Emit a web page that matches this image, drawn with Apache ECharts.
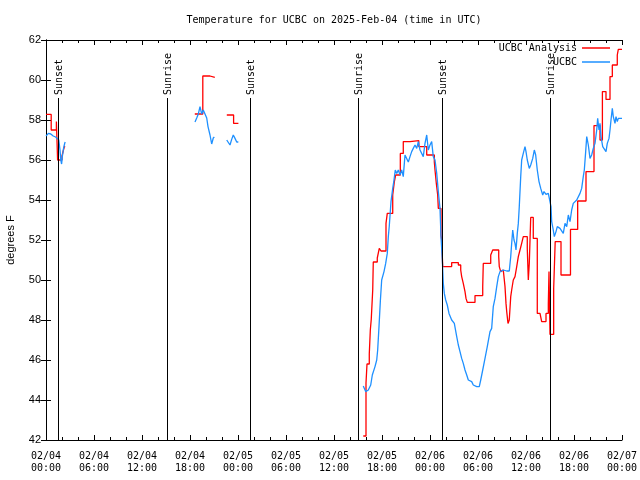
<!DOCTYPE html>
<html>
<head>
<meta charset="utf-8">
<script src="https://cdn.jsdelivr.net/npm/echarts@6/dist/echarts.min.js"></script>
<style>html,body{margin:0;padding:0;background:#fff}#c{width:640px;height:480px}</style>
</head>
<body>
<div id="c"></div>
<script>
// Hours since 2025-02-04 00:00 UTC ; null temp = gap in record
const analysisTimes = [
  0, 0.65, 1.3, 1.45, 2.0, 2.15, 2.3, 2.4,
  2.4,
  18.6, 19.6, 20.5, 21.1,
  21.1,
  22.6, 23.45, 24.05,
  24.05,
  39.66, 40.0, 40.125, 40.41, 40.54, 40.66, 40.84, 40.91, 41.41, 41.66, 41.875, 42.5, 42.66, 43.34, 43.54, 43.71,
  44.29, 44.66, 45.5, 46.6, 47.59, 48.54, 48.625, 48.79, 48.96, 49.04, 49.375, 49.46, 49.59, 50.71, 51.54, 51.84,
  51.96, 52.16, 52.375, 52.5, 52.66, 53.625, 54.59, 54.66, 55.59, 55.84, 56.59, 56.66, 56.84, 57.0, 57.16, 57.375,
  57.5, 57.59, 57.75, 57.91, 58.09, 58.21, 58.41, 58.625, 58.84, 59.04, 59.25, 59.46, 59.66, 60.16, 60.29, 60.41,
  60.59, 60.91, 61.41, 61.75, 61.96, 62.5, 62.79, 62.875, 62.94, 63.0, 63.46, 63.65, 64.375, 65.56, 66.46, 67.5,
  68.5, 69.25, 69.55, 70.0, 70.5, 70.79, 71.41, 71.54, 72
];
const analysisTemps = [
  58.28, 57.5, 57.92, 56.0, 56.2, 56.45, 56.67, 56.67,
  null,
  58.3, 60.2, 60.13, 60.13,
  null,
  58.25, 57.83, 57.83,
  null,
  42.2, 44.85, 45.8, 46.3, 47.5, 48.05, 49.5, 50.9, 51.1, 51.58, 51.45, 52.83, 53.33, 54.25, 54.9, 55.25,
  56.33, 56.92, 56.97, 56.67, 56.25, 55.9, 55.5, 54.83, 54.25, 53.58, 52.25, 52.0, 50.67, 50.87, 50.75, 50.5,
  50.17, 49.83, 49.42, 49.08, 48.88, 49.22, 49.67, 50.83, 51.25, 51.5, 51.17, 50.67, 50.42, 50.5, 50.42, 49.67,
  48.83, 48.42, 47.83, 48.0, 49.17, 49.5, 50.0, 50.17, 50.67, 51.17, 51.5, 51.83, 52.17, 51.58, 50.0, 50.83,
  53.13, 52.08, 48.33, 48.25, 47.92, 48.33, 48.8, 50.42, 48.8, 47.28, 49.58, 51.92, 50.25, 52.53, 53.95, 55.42,
  57.72, 57.0, 59.42, 59.03, 60.17, 60.75, 61.25, 61.53, 61.53
];

const obsTimes = [
  0, 0.3, 0.6, 0.9, 1.2, 1.4, 1.6, 1.75, 1.85, 1.95, 2.05, 2.2, 2.35, 2.4,
  2.4,
  18.625, 18.84, 19.04, 19.25, 19.46, 19.66, 19.875, 20.09, 20.25, 20.5, 20.71, 20.91, 21.04,
  21.04,
  22.59, 22.79, 23.0, 23.21, 23.41, 23.625, 23.84, 24.04,
  24.04,
  39.66, 39.96, 40.29, 40.59, 40.79, 41.125, 41.34, 41.46, 41.625, 41.79, 41.96, 42.25, 42.46, 42.66, 42.79, 42.91,
  43.125, 43.34, 43.5, 43.66, 43.84, 44.04, 44.25, 44.46, 44.66, 44.875, 45.09, 45.29, 45.5, 45.71, 45.91, 46.125,
  46.34, 46.54, 46.75, 46.96, 47.16, 47.375, 47.59, 47.79, 48.0, 48.21, 48.41, 48.625, 48.84, 49.04, 49.25, 49.375,
  49.54, 49.66, 49.79, 49.96, 50.16, 50.375, 50.71, 51.04, 51.125, 51.34, 51.54, 51.75, 51.96, 52.16, 52.375, 52.59,
  52.79, 53.21, 53.41, 53.84, 54.16, 54.34, 54.59, 54.875, 55.16, 55.5, 55.71, 55.91, 56.125, 56.34, 56.54, 56.75,
  56.96, 57.16, 57.59, 57.91, 58.09, 58.21, 58.34, 58.5, 58.625, 58.75, 58.91, 59.04, 59.16, 59.34, 59.46, 59.66,
  59.875, 60.0, 60.16, 60.41, 60.59, 60.84, 61.04, 61.21, 61.41, 61.625, 61.84, 62.09, 62.25, 62.5, 62.79, 63.0,
  63.125, 63.21, 63.41, 63.54, 63.75, 63.91, 64.25, 64.46, 64.66, 64.875, 65.09, 65.29, 65.5, 65.71, 65.91, 66.125,
  66.34, 66.54, 66.75, 66.96, 67.16, 67.29, 67.46, 67.59, 67.79, 68.0, 68.21, 68.41, 68.625, 68.84, 68.96, 69.125,
  69.25, 69.375, 69.59, 69.75, 70.0, 70.16, 70.375, 70.5, 70.625, 70.79, 70.91, 71.125, 71.25, 71.41, 71.54, 72
];
const obsTemps = [
  57.2, 57.33, 57.3, 57.2, 57.15, 57.1, 57.0, 56.5, 56.0, 55.8, 56.2, 56.6, 56.85, 56.9,
  null,
  57.9, 58.1, 58.3, 58.67, 58.3, 58.5, 58.4, 58.1, 57.67, 57.25, 56.8, 57.1, 57.15,
  null,
  57.0, 56.9, 56.75, 57.03, 57.25, 57.08, 56.9, 56.9,
  null,
  44.7, 44.42, 44.5, 44.75, 45.25, 45.67, 46.0, 46.5, 47.67, 48.92, 50.0, 50.42, 50.83, 51.33, 52.17, 52.7,
  53.92, 54.58, 55.0, 55.5, 55.33, 55.5, 55.25, 55.5, 55.17, 56.25, 56.17, 55.9, 56.17, 56.42, 56.58, 56.75,
  56.58, 56.92, 56.5, 56.42, 56.17, 56.83, 57.25, 56.5, 56.75, 56.92, 56.17, 56.0, 55.33, 54.42, 53.58, 52.17,
  51.0, 49.83, 49.33, 49.0, 48.75, 48.33, 48.0, 47.83, 47.83, 47.17, 46.75, 46.42, 46.08, 45.83, 45.5, 45.25,
  45.0, 44.92, 44.75, 44.67, 44.67, 45.0, 45.5, 46.08, 46.67, 47.42, 47.58, 48.67, 49.08, 49.67, 50.17, 50.42,
  50.33, 50.5, 50.45, 50.45, 51.17, 51.83, 52.5, 52.0, 51.83, 51.5, 52.33, 52.83, 53.67, 55.17, 56.0, 56.33,
  56.67, 56.42, 56.0, 55.58, 55.75, 56.08, 56.5, 56.25, 55.5, 54.92, 54.58, 54.25, 54.42, 54.28, 54.33, 54.33,
  53.67, 52.92, 52.5, 52.17, 52.42, 52.67, 52.58, 52.5, 52.33, 52.83, 52.67, 53.25, 52.92, 53.5, 53.83, 53.75,
  54.0, 54.08, 54.33, 54.58, 55.17, 55.5, 56.42, 57.17, 56.75, 56.08, 56.25, 56.58, 56.83, 57.5, 58.08, 57.5,
  57.83, 57.17, 56.67, 56.75, 56.42, 56.83, 57.08, 57.5, 58.0, 58.58, 58.17, 57.83, 58.17, 57.92, 58.08, 58.08
];

const sunHours = [1.55, 15.15, 25.55, 39.05, 49.55, 63.05];
const sunLabels = ['Sunset', 'Sunrise', 'Sunset', 'Sunrise', 'Sunset', 'Sunrise'];

const xTickHours = [0, 6, 12, 18, 24, 30, 36, 42, 48, 54, 60, 66, 72];
const yTicks = [42, 44, 46, 48, 50, 52, 54, 56, 58, 60, 62];

const mono = 'DejaVu Sans Mono';
function pad(n) { return (n < 10 ? '0' : '') + n; }
function xLabel(v) {
  const d = 4 + Math.floor(v / 24);
  const hh = Math.round(v % 24);
  return '02/' + pad(d) + '\n' + pad(hh) + ':00';
}

const chart = echarts.init(document.getElementById('c'), null, { renderer: 'canvas' });
const axisLineStyle = { show: true, lineStyle: { color: '#000', width: 1 } };
const xBase = {
  type: 'value', min: xTickHours[0], max: xTickHours[xTickHours.length - 1], interval: 6,
  axisLine: axisLineStyle,
  axisTick: { show: true, inside: true, length: 5, lineStyle: { color: '#000' } },
  minorTick: { show: true, splitNumber: 3, length: 3, lineStyle: { color: '#000' } },
  splitLine: { show: false }, minorSplitLine: { show: false }
};
const yBase = {
  type: 'value', min: yTicks[0], max: yTicks[yTicks.length - 1], interval: 2,
  axisLine: axisLineStyle,
  axisTick: { show: true, inside: true, length: 5, lineStyle: { color: '#000' } },
  splitLine: { show: false }
};

chart.setOption({
  backgroundColor: '#fff',
  animation: false,
  title: {
    text: 'Temperature for UCBC on 2025-Feb-04 (time in UTC)',
    left: 329, top: 10, textAlign: 'center',
    textStyle: { fontFamily: mono, fontSize: 10, fontWeight: 'normal', color: '#000' }
  },
  legend: {
    orient: 'vertical', right: 30, top: 43, align: 'right', padding: 0,
    icon: 'rect', itemWidth: 28, itemHeight: 1.5, itemGap: 4,
    textStyle: { fontFamily: mono, fontSize: 10, color: '#000' },
    data: ['UCBC Analysis', 'UCBC']
  },
  grid: { left: 46, right: 18, top: 40, bottom: 40, containLabel: false, outerBoundsMode: 'none' },
  xAxis: [
    Object.assign({}, xBase, {
      position: 'bottom',
      axisLabel: { show: true, formatter: xLabel, margin: 10, fontFamily: mono, fontSize: 10, lineHeight: 12, color: '#000' }
    }),
    Object.assign({}, xBase, { position: 'top', axisLabel: { show: false } })
  ],
  yAxis: [
    Object.assign({}, yBase, {
      position: 'left',
      name: 'degrees F', nameLocation: 'middle', nameGap: 30,
      nameTextStyle: { fontFamily: 'Liberation Sans', fontSize: 11, color: '#000' },
      axisLabel: { show: true, margin: 5, fontFamily: 'Liberation Sans', fontSize: 11, color: '#000' }
    }),
    Object.assign({}, yBase, { position: 'right', axisLabel: { show: false } })
  ],
  series: [
    {
      name: 'UCBC Analysis', type: 'line', step: 'end', symbol: 'none', connectNulls: false,
      lineStyle: { color: '#ff0000', width: 1.3 }, itemStyle: { color: '#ff0000' },
      data: analysisTimes.map((t, i) => [t, analysisTemps[i]]), z: 2
    },
    {
      name: 'UCBC', type: 'line', symbol: 'none', connectNulls: false,
      lineStyle: { color: '#1e90ff', width: 1.3 }, itemStyle: { color: '#1e90ff' },
      data: obsTimes.map((t, i) => [t, obsTemps[i]]), z: 3
    },
    {
      name: 'sun', type: 'custom', silent: true, z: 4,
      data: sunHours.map(h => [h, 59.1]),
      encode: { x: 0, y: 1 },
      renderItem: function (params, api) {
        const top = api.coord([api.value(0), api.value(1)]);
        const bot = api.coord([api.value(0), yTicks[0]]);
        const x = Math.round(top[0]) + 0.5;
        return {
          type: 'group',
          children: [
            { type: 'line', shape: { x1: x, y1: top[1], x2: x, y2: bot[1] }, style: { stroke: '#000', lineWidth: 1 } },
            { type: 'text', x: x + 1, y: top[1] - 3, rotation: Math.PI / 2,
              style: { text: sunLabels[params.dataIndex], font: '10px ' + mono, fill: '#000', align: 'left', verticalAlign: 'middle' } }
          ]
        };
      }
    }
  ]
});
</script>
</body>
</html>
